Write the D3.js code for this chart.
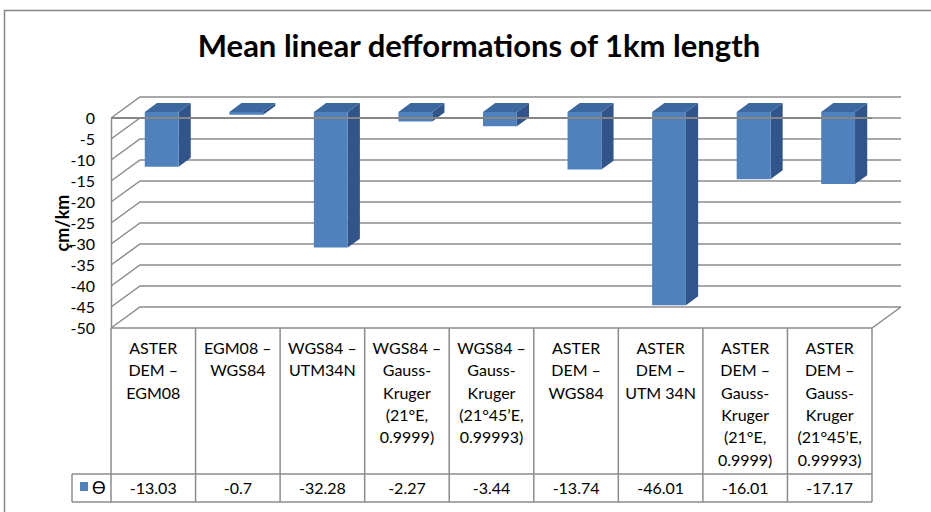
<!DOCTYPE html>
<html lang="en">
<head>
    <meta charset="UTF-8">
    <title>Mean linear defformations of 1km length</title>
    <script src="https://d3js.org/d3.v7.min.js"></script>
    <style>
        body {
            margin: 0;
            padding: 0;
            background: #fff;
        }
        svg {
            display: block;
            font-family: Lato, "Open Sans", "DejaVu Sans", sans-serif;
        }
    </style>
</head>
<body>
    <svg width="931" height="512"></svg>
    <script>
        // data
        const categories = [
            ["ASTER", "DEM –", "EGM08"],
            ["EGM08 –", "WGS84"],
            ["WGS84 –", "UTM34N"],
            ["WGS84 –", "Gauss-", "Kruger", "(21°E,", "0.9999)"],
            ["WGS84 –", "Gauss-", "Kruger", "(21°45’E,", "0.99993)"],
            ["ASTER", "DEM –", "WGS84"],
            ["ASTER", "DEM –", "UTM 34N"],
            ["ASTER", "DEM –", "Gauss-", "Kruger", "(21°E,", "0.9999)"],
            ["ASTER", "DEM –", "Gauss-", "Kruger", "(21°45’E,", "0.99993)"]
        ];
        const values = [-13.03, -0.7, -32.28, -2.27, -3.44, -13.74, -46.01, -16.01, -17.17];
        const seriesName = "ϴ";
        const yTicks = [0, -5, -10, -15, -20, -25, -30, -35, -40, -45, -50];

        const svg = d3.select("svg");
        const gridColor = "#8c8c8c";
        const frontColor = "#4f81bd", sideColor = "#31548a", topColor = "#3b689e";

        // 3d-ish projection: depth z in [0,1] shifts right and up
        const DX = 29, DY = 21;
        const x = d3.scaleBand().domain(d3.range(values.length)).range([111, 872]);
        const y = d3.scaleLinear().domain([0, -50]).range([118, 328]);
        const proj = (px, v, z) => [px + z * DX, y(v) - z * DY];
        const x0 = x.range()[0], x1 = x.range()[1];

        // outer chart border
        svg.append("rect")
           .attr("x", 4.5).attr("y", 10.5)
           .attr("width", 960).attr("height", 540)
           .attr("fill", "none")
           .attr("stroke", "#868686")
           .attr("stroke-width", 1.5);

        svg.append("text")
           .attr("x", 479)
           .attr("y", 57)
           .attr("text-anchor", "middle")
           .style("font-size", "31px")
           .style("font-weight", "bold")
           .text("Mean linear defformations of 1km length");

        // side wall + back wall gridlines
        const line = d3.line();
        svg.append("g").selectAll("path")
           .data(yTicks)
           .join("path")
           .attr("d", t => line([proj(x0, t, 0), proj(x0, t, 1), proj(x1, t, 1)]))
           .attr("fill", "none")
           .attr("stroke", gridColor)
           .attr("stroke-width", 1.5);

        // floor front edge and right corner
        svg.append("path")
           .attr("d", line([proj(x0, -50, 0), proj(x1, -50, 0), proj(x1, -50, 1)]))
           .attr("fill", "none")
           .attr("stroke", gridColor)
           .attr("stroke-width", 1.5);

        // bars
        const z0 = 0.29, z1 = 0.71;
        const bars = svg.append("g").selectAll("g")
           .data(values)
           .join("g");
        bars.each(function (v, i) {
            const g = d3.select(this);
            const bw = x.bandwidth() * 0.4;
            const l = x(i) + x.bandwidth() * 0.3, r = l + bw;
            // side face
            g.append("path")
             .attr("d", line([proj(r, 0, z0), proj(r, 0, z1), proj(r, v, z1), proj(r, v, z0)]) + "Z")
             .attr("fill", sideColor);
            // top face
            g.append("path")
             .attr("d", line([proj(l, 0, z0), proj(r, 0, z0), proj(r, 0, z1), proj(l, 0, z1)]) + "Z")
             .attr("fill", topColor);
            // front face
            g.append("path")
             .attr("d", line([proj(l, 0, z0), proj(r, 0, z0), proj(r, v, z0), proj(l, v, z0)]) + "Z")
             .attr("fill", frontColor);
        });

        // zero line on the front plane
        svg.append("path")
           .attr("d", line([proj(x0, 0, 0), proj(x1, 0, 0)]))
           .attr("stroke", "#868686")
           .attr("stroke-width", 2);

        // y axis
        const yAxis = svg.append("g")
           .attr("transform", `translate(${x0},0)`)
           .call(d3.axisLeft(y).tickValues(yTicks).tickSize(0).tickPadding(16).tickFormat(d => String(d)));
        yAxis.select(".domain").attr("stroke", gridColor).attr("stroke-width", 1.5);
        yAxis.selectAll("text")
             .style("font-family", "Lato, 'Open Sans', sans-serif")
             .style("font-size", "16px")
             .attr("fill", "#000");

        svg.append("text")
           .attr("transform", "translate(69,223) rotate(-90)")
           .attr("text-anchor", "middle")
           .style("font-size", "18px")
           .style("font-weight", "bold")
           .text("çm/km");

        // data table
        const tYtop = y(-50), tYmid = 474, tYbot = 502, legendX = 72;
        const tbl = svg.append("g")
           .attr("stroke", gridColor)
           .attr("stroke-width", 1.5);
        tbl.selectAll("line.v")
           .data(d3.range(values.length + 1))
           .join("line")
           .attr("x1", i => i < values.length ? x(i) : x1)
           .attr("x2", i => i < values.length ? x(i) : x1)
           .attr("y1", tYtop).attr("y2", tYbot);
        tbl.append("line").attr("x1", legendX).attr("x2", x1).attr("y1", tYmid).attr("y2", tYmid);
        tbl.append("line").attr("x1", legendX).attr("x2", x1).attr("y1", tYbot).attr("y2", tYbot);
        tbl.append("line").attr("x1", legendX).attr("x2", legendX).attr("y1", tYmid).attr("y2", tYbot);

        const catG = svg.append("g").style("font-size", "16px");
        categories.forEach((lines, i) => {
            const t = catG.append("text")
               .attr("text-anchor", "middle")
               .attr("x", x(i) + x.bandwidth() / 2);
            lines.forEach((s, k) => {
                t.append("tspan")
                 .attr("x", x(i) + x.bandwidth() / 2)
                 .attr("y", 354 + k * 22.3)
                 .text(s);
            });
        });

        svg.append("g").selectAll("text")
           .data(values)
           .join("text")
           .attr("x", (d, i) => x(i) + x.bandwidth() / 2)
           .attr("y", 494)
           .attr("text-anchor", "middle")
           .style("font-size", "16px")
           .text(d => String(d));

        // legend key in table
        svg.append("rect")
           .attr("x", 80).attr("y", 482)
           .attr("width", 8).attr("height", 9)
           .attr("fill", frontColor);
        svg.append("text")
           .attr("x", 92).attr("y", 494)
           .style("font-size", "17px")
           .text(seriesName);
    </script>
</body>
</html>
